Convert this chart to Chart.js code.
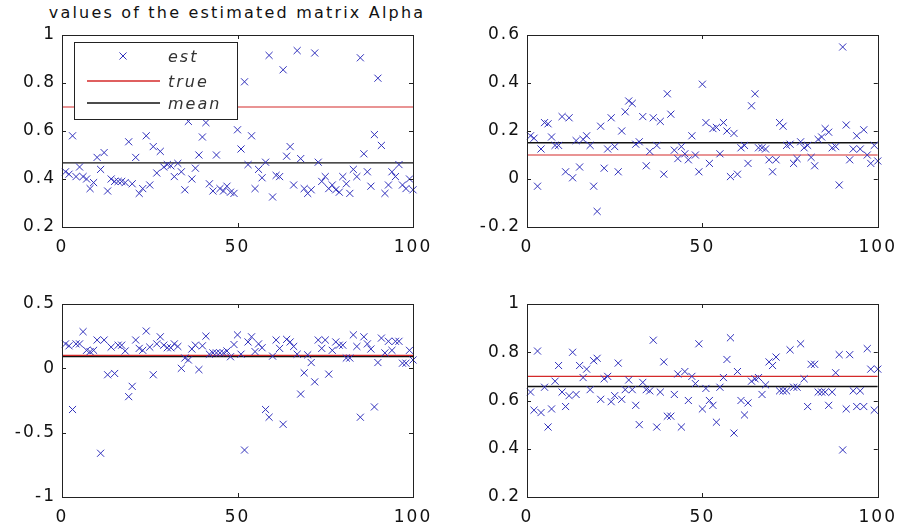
<!DOCTYPE html>
<html>
<head>
<meta charset="utf-8">
<script src="https://cdn.jsdelivr.net/npm/chart.js@4.4.1/dist/chart.umd.min.js"></script>
<style>
  body { margin: 0; background: #fff; }
  #wrap { position: relative; width: 904px; height: 531px; overflow: hidden; }
  #wrap canvas { position: absolute; }
  #title {
    position: absolute; top: 3px; left: 37px; width: 400px;
    text-align: center; font: 16px "DejaVu Sans", sans-serif;
    letter-spacing: 2.2px; color: #111; line-height: 20px; white-space: nowrap;
  }
</style>
</head>
<body>
<div id="wrap">
  <div id="title">values of the estimated matrix Alpha</div>
  <canvas id="a11" width="440" height="270" style="left:0;top:0"></canvas>
  <canvas id="a12" width="452" height="270" style="left:452px;top:0"></canvas>
  <canvas id="a21" width="440" height="261" style="left:0;top:270px"></canvas>
  <canvas id="a22" width="452" height="261" style="left:452px;top:270px"></canvas>
</div>
<script>
// estimates of each entry of Alpha over 100 runs
const alpha11 = [
  0.43, 0.42, 0.58, 0.41, 0.45, 0.41, 0.40, 0.36, 0.385, 0.49,
  0.44, 0.51, 0.35, 0.40, 0.39, 0.39, 0.39, 0.385, 0.555, 0.38,
  0.49, 0.34, 0.36, 0.58, 0.375, 0.535, 0.425, 0.515, 0.45, 0.46,
  0.455, 0.41, 0.465, 0.43, 0.355, 0.64, 0.40, 0.445, 0.50, 0.575,
  0.635, 0.38, 0.35, 0.50, 0.36, 0.35, 0.37, 0.345, 0.34, 0.605,
  0.525, 0.805, 0.46, 0.58, 0.36, 0.44, 0.405, 0.47, 0.915, 0.325,
  0.415, 0.41, 0.855, 0.495, 0.535, 0.375, 0.935, 0.485, 0.36, 0.34,
  0.355, 0.925, 0.47, 0.39, 0.41, 0.36, 0.375, 0.355, 0.345, 0.41,
  0.38, 0.34, 0.44, 0.41, 0.905, 0.505, 0.43, 0.37, 0.585, 0.82,
  0.54, 0.34, 0.375, 0.43, 0.41, 0.46, 0.375, 0.36, 0.40, 0.355
];
const alpha12 = [
  0.18, 0.17, -0.03, 0.125, 0.235, 0.23, 0.175, 0.14, 0.14, 0.26,
  0.03, 0.255, 0.005, 0.16, 0.05, 0.165, 0.18, 0.14, -0.03, -0.135,
  0.22, 0.045, 0.125, 0.255, 0.135, 0.03, 0.20, 0.28, 0.325, 0.315,
  0.145, 0.155, 0.26, 0.055, 0.115, 0.255, 0.14, 0.24, 0.02, 0.355,
  0.27, 0.12, 0.085, 0.135, 0.105, 0.08, 0.18, 0.10, 0.03, 0.395,
  0.235, 0.065, 0.21, 0.215, 0.105, 0.235, 0.20, 0.01, 0.19, 0.02,
  0.13, 0.14, 0.065, 0.305, 0.355, 0.13, 0.13, 0.125, 0.08, 0.03,
  0.08, 0.235, 0.22, 0.14, 0.145, 0.065, 0.085, 0.155, 0.13, 0.14,
  0.09, 0.055, 0.165, 0.175, 0.21, 0.195, 0.13, 0.135, -0.025, 0.55,
  0.225, 0.08, 0.125, 0.18, 0.125, 0.205, 0.10, 0.065, 0.14, 0.075
];
const alpha21 = [
  0.19, 0.175, -0.32, 0.19, 0.19, 0.285, 0.14, 0.13, 0.14, 0.22,
  -0.66, 0.22, -0.05, 0.165, -0.04, 0.18, 0.18, 0.135, -0.22, -0.14,
  0.22, 0.155, 0.14, 0.29, 0.165, -0.05, 0.19, 0.245, 0.18, 0.16,
  0.16, 0.19, 0.17, 0.0, 0.08, 0.065, 0.15, 0.18, -0.01, 0.175,
  0.25, 0.11, 0.12, 0.12, 0.12, 0.12, 0.135, 0.09, 0.185, 0.26,
  0.11, -0.635, 0.205, 0.245, 0.13, 0.19, 0.16, -0.32, -0.38, 0.095,
  0.22, 0.155, -0.435, 0.225, 0.205, 0.17, 0.11, -0.20, -0.035, 0.105,
  0.045, -0.105, 0.22, 0.155, 0.22, -0.045, 0.14, 0.205, 0.18, 0.18,
  0.08, 0.08, 0.26, 0.17, -0.38, 0.245, 0.19, 0.15, -0.30, 0.045,
  0.235, 0.12, 0.21, 0.14, 0.21, 0.21, 0.04, 0.04, 0.14, 0.065
];
const alpha22 = [
  0.635, 0.56, 0.805, 0.55, 0.655, 0.49, 0.565, 0.68, 0.745, 0.635,
  0.575, 0.62, 0.80, 0.625, 0.745, 0.695, 0.73, 0.645, 0.765, 0.775,
  0.605, 0.69, 0.70, 0.595, 0.62, 0.755, 0.605, 0.645, 0.685, 0.645,
  0.58, 0.50, 0.675, 0.645, 0.64, 0.85, 0.49, 0.635, 0.76, 0.535,
  0.535, 0.625, 0.71, 0.49, 0.72, 0.60, 0.70, 0.67, 0.835, 0.565,
  0.65, 0.60, 0.58, 0.51, 0.655, 0.695, 0.77, 0.86, 0.465, 0.72,
  0.60, 0.54, 0.59, 0.68, 0.69, 0.695, 0.625, 0.665, 0.76, 0.745,
  0.78, 0.64, 0.64, 0.64, 0.81, 0.655, 0.655, 0.835, 0.69, 0.575,
  0.75, 0.75, 0.635, 0.635, 0.635, 0.58, 0.635, 0.715, 0.79, 0.395,
  0.565, 0.79, 0.64, 0.575, 0.64, 0.575, 0.815, 0.73, 0.56, 0.73
];

const trueAlpha = [0.7, 0.1, 0.1, 0.7];
const meanAlpha = [0.467, 0.151, 0.092, 0.658];

const runs = Array.from({ length: 100 }, (_, i) => i + 1);

const xTicks = [0, 50, 100];
const yTicks11 = [0.2, 0.4, 0.6, 0.8, 1];
const yTicks12 = [-0.2, 0, 0.2, 0.4, 0.6];
const yTicks21 = [-1, -0.5, 0, 0.5];
const yTicks22 = [0.2, 0.4, 0.6, 0.8, 1];

const legendLabels = ["est", "true", "mean"];

const estColor = "#3030bc";
const trueColor = "#d42a2a";
const meanColor = "#111";

// box with inward tick marks, drawn over the data
const axesBox = {
  id: "axesBox",
  beforeDraw(chart) {
    chart.ctx.letterSpacing = "2px";
  },
  afterDatasetsDraw(chart) {
    const { ctx, chartArea: a, scales } = chart;
    const t = 4;
    ctx.save();
    ctx.strokeStyle = "#222";
    ctx.lineWidth = 1;
    ctx.beginPath();
    scales.x.ticks.forEach(tk => {
      const px = Math.round(scales.x.getPixelForValue(tk.value)) + 0.5;
      ctx.moveTo(px, a.bottom); ctx.lineTo(px, a.bottom - t);
      ctx.moveTo(px, a.top); ctx.lineTo(px, a.top + t);
    });
    scales.y.ticks.forEach(tk => {
      const py = Math.round(scales.y.getPixelForValue(tk.value)) + 0.5;
      ctx.moveTo(a.left, py); ctx.lineTo(a.left + t, py);
      ctx.moveTo(a.right, py); ctx.lineTo(a.right - t, py);
    });
    ctx.stroke();
    ctx.strokeRect(Math.round(a.left) + 0.5, Math.round(a.top) + 0.5,
                   Math.round(a.width), Math.round(a.height));
    ctx.restore();
  }
};

// legend drawn inside the first axes
const boxLegend = {
  id: "boxLegend",
  afterDraw(chart, args, opts) {
    if (!opts.show) return;
    const ctx = chart.ctx;
    const { x, y, w, h, rows } = opts;
    ctx.save();
    ctx.fillStyle = "#fff";
    ctx.fillRect(x, y, w, h);
    ctx.strokeStyle = "#222";
    ctx.lineWidth = 1;
    ctx.strokeRect(x + 0.5, y + 0.5, w, h);
    ctx.letterSpacing = "2px";
    ctx.font = "italic 16px 'DejaVu Sans'";
    ctx.textBaseline = "middle";
    chart.data.datasets.forEach((ds, i) => {
      const cy = y + rows[i];
      const color = chart.getDatasetMeta(i).controller.getStyle(0).borderColor || ds.borderColor;
      if (ds.showLine) {
        ctx.strokeStyle = ds.borderColor;
        ctx.lineWidth = 1.3;
        ctx.beginPath();
        ctx.moveTo(x + 13, cy);
        ctx.lineTo(x + 86, cy);
        ctx.stroke();
      } else {
        ctx.strokeStyle = color;
        ctx.lineWidth = 1;
        Chart.helpers.drawPoint(ctx, { pointStyle: "crossRot", radius: 5, borderWidth: 1, rotation: 0 }, x + 49, cy);
      }
      ctx.fillStyle = "#333";
      ctx.fillText(ds.label, x + 94, cy + 2);
    });
    ctx.restore();
  }
};

function makePanel(id, est, truth, mean, yTicks, yWidth, xHeight, pad, legend) {
  const yMin = yTicks[0], yMax = yTicks[yTicks.length - 1];
  const tickFont = { family: "DejaVu Sans", size: 17 };
  return new Chart(document.getElementById(id), {
    type: "scatter",
    data: {
      datasets: [
        {
          label: legendLabels[0],
          data: runs.map((r, i) => ({ x: r, y: est[i] })),
          pointStyle: "crossRot",
          pointRadius: 5,
          pointBorderWidth: 1,
          borderColor: estColor,
          backgroundColor: estColor,
          showLine: false,
          clip: false
        },
        {
          label: legendLabels[1],
          data: [{ x: xTicks[0], y: truth }, { x: xTicks[2], y: truth }],
          showLine: true,
          borderColor: trueColor,
          borderWidth: 1.2,
          pointRadius: 0
        },
        {
          label: legendLabels[2],
          data: [{ x: xTicks[0], y: mean }, { x: xTicks[2], y: mean }],
          showLine: true,
          borderColor: meanColor,
          borderWidth: 1.3,
          pointRadius: 0
        }
      ]
    },
    options: {
      responsive: false,
      animation: false,
      devicePixelRatio: 1,
      events: [],
      layout: { padding: pad },
      scales: {
        x: {
          type: "linear",
          min: xTicks[0],
          max: xTicks[2],
          afterBuildTicks: s => { s.ticks = xTicks.map(v => ({ value: v })); },
          afterFit: s => { s.height = xHeight; },
          grid: { display: false, drawTicks: false },
          border: { display: false },
          ticks: { color: "#111", font: tickFont, padding: 10, maxRotation: 0,
                   callback: v => String(v) }
        },
        y: {
          type: "linear",
          min: yMin,
          max: yMax,
          afterBuildTicks: s => { s.ticks = yTicks.map(v => ({ value: v })); },
          afterFit: s => { s.width = yWidth; },
          grid: { display: false, drawTicks: false },
          border: { display: false },
          ticks: { color: "#111", font: tickFont, padding: 6,
                   callback: v => String(Math.round(v * 100) / 100) }
        }
      },
      plugins: {
        legend: { display: false },
        tooltip: { enabled: false },
        boxLegend: { show: legend, x: 74, y: 42, w: 163, h: 77, rows: [14, 39, 61] }
      }
    },
    plugins: [axesBox, boxLegend]
  });
}

makePanel("a11", alpha11, trueAlpha[0], meanAlpha[0], yTicks11, 62, 43, { top: 35, right: 27 }, true);
makePanel("a12", alpha12, trueAlpha[1], meanAlpha[1], yTicks12, 75, 43, { top: 35, right: 24 }, false);
makePanel("a21", alpha21, trueAlpha[2], meanAlpha[2], yTicks21, 62, 34, { top: 34, right: 27 }, false);
makePanel("a22", alpha22, trueAlpha[3], meanAlpha[3], yTicks22, 75, 34, { top: 34, right: 24 }, false);
</script>
</body>
</html>
